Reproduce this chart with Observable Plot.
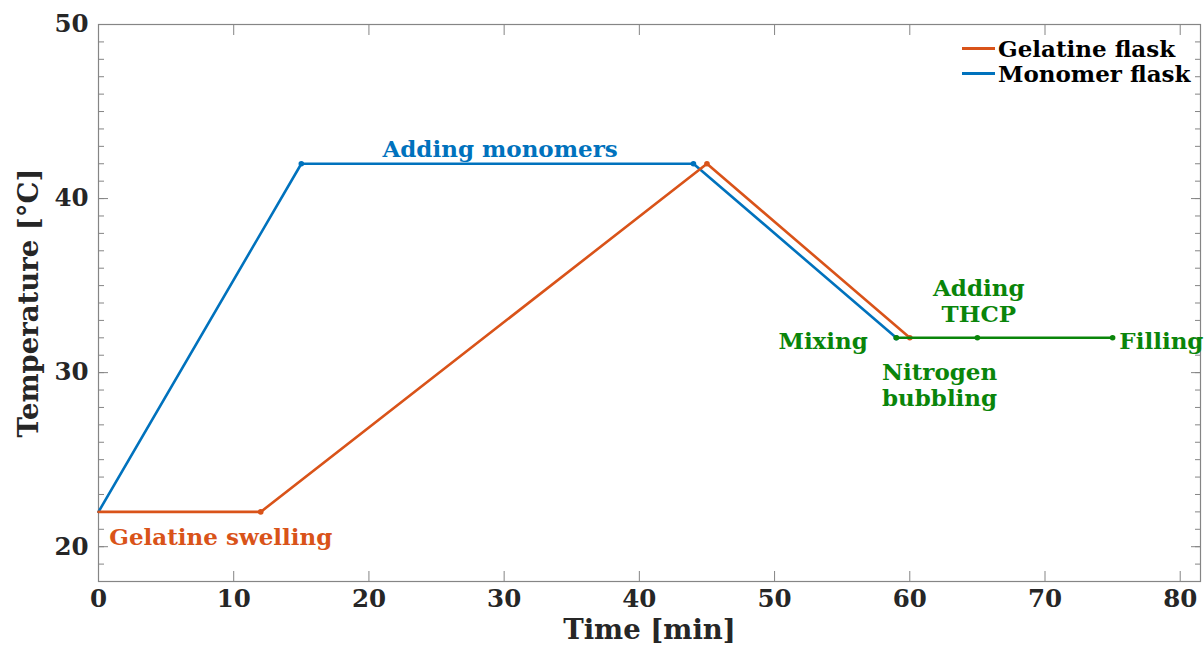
<!DOCTYPE html>
<html>
<head>
<meta charset="utf-8">
<script src="https://cdn.jsdelivr.net/npm/d3@7"></script>
<script src="https://cdn.jsdelivr.net/npm/@observablehq/plot@0.6"></script>
<style>
  html, body { margin: 0; padding: 0; background: #fff; }
  #wrap { position: relative; width: 1204px; height: 650px; font-family: "DejaVu Serif", serif; font-weight: bold; }
  #legend { position: absolute; left: 962px; top: 36px; font-size: 23px; color: #000; line-height: 25px; }
  #legend .row { display: flex; align-items: center; height: 25px; white-space: nowrap; }
  #legend .sw { width: 33px; height: 2.5px; margin-right: 3px; }
</style>
</head>
<body>
<div id="wrap"></div>
<script>
// ---- data ----
const gelatineTime = [0, 12, 45, 60];
const gelatineTemp = [22, 22, 42, 32];
const monomerTime = [0, 15, 44, 59];
const monomerTemp = [22, 42, 42, 32];
const stageTime = [59, 65, 75];
const stageTemp = [32, 32, 32];

const xTicks = [0, 10, 20, 30, 40, 50, 60, 70, 80];
const yTicks = [20, 30, 40, 50];
const yMinorTicks = d3.range(18, 51, 1);

const seriesNames = ["Gelatine flask", "Monomer flask"];
const seriesColors = ["#D95319", "#0072BD"];
const stageColor = "#0A850A";

const noteText = ["Gelatine swelling", "Adding monomers", "Adding\nTHCP", "Mixing", "Nitrogen\nbubbling", "Filling"];
const noteX = [0.8, 29.7, 65.1, 56.9, 62.2, 75.5];
const noteY = [20.55, 42.87, 34.14, 31.85, 29.31, 31.85];
const noteAnchor = ["start", "middle", "middle", "end", "middle", "start"];
const noteColor = ["#D95319", "#0072BD", stageColor, stageColor, stageColor, stageColor];

const xLabel = "Time [min]";
const yLabel = "Temperature [°C]";

// ---- build tables ----
const gel = gelatineTime.map((t, i) => ({t, v: gelatineTemp[i]}));
const mon = monomerTime.map((t, i) => ({t, v: monomerTemp[i]}));
const stage = stageTime.map((t, i) => ({t, v: stageTemp[i]}));
const notes = noteText.map((s, i) => ({s, x: noteX[i], y: noteY[i], a: noteAnchor[i], c: noteColor[i]}));

const axisGray = "#858585";
const textDark = "#262626";
const blank = () => "";

const noteMarks = ["start", "middle", "end"].map(a =>
  Plot.text(notes.filter(d => d.a === a), {x: "x", y: "y", text: "s", textAnchor: a, fill: "c", fontSize: 23, lineHeight: 1.12})
);

const chart = Plot.plot({
  width: 1204,
  height: 650,
  marginLeft: 98,
  marginRight: 4,
  marginTop: 24,
  marginBottom: 69,
  style: {fontFamily: "DejaVu Serif", fontWeight: "bold", background: "#fff", overflow: "visible"},
  x: {domain: [0, 81.5], label: null},
  y: {domain: [18, 50], label: null},
  marks: [
    Plot.frame({stroke: axisGray, strokeWidth: 1.2}),
    // x ticks bottom & top (inward)
    Plot.axisX(xTicks, {anchor: "bottom", tickSize: -10, tickFormat: blank, stroke: axisGray, label: null}),
    Plot.axisX(xTicks, {anchor: "top", tickSize: -10, tickFormat: blank, stroke: axisGray, label: null}),
    Plot.axisX(xTicks, {anchor: "bottom", tickSize: 0, tickPadding: 8, fontSize: 24.5, fill: textDark, label: null}),
    // y ticks left & right
    Plot.axisY(yMinorTicks, {anchor: "left", tickSize: -6, tickFormat: blank, stroke: axisGray, label: null}),
    Plot.axisY(yMinorTicks, {anchor: "right", tickSize: -6, tickFormat: blank, stroke: axisGray, label: null}),
    Plot.axisY(yTicks, {anchor: "left", tickSize: -10, tickFormat: blank, stroke: axisGray, label: null}),
    Plot.axisY(yTicks, {anchor: "right", tickSize: -10, tickFormat: blank, stroke: axisGray, label: null}),
    Plot.axisY(yTicks, {anchor: "left", tickSize: 0, tickPadding: 10, fontSize: 24.5, fill: textDark, label: null}),
    // axis titles
    Plot.text([xLabel], {text: d => d, frameAnchor: "bottom", textAnchor: "middle", lineAnchor: "middle", dy: 49, fontSize: 27.5, fill: textDark}),
    Plot.text([yLabel], {text: d => d, frameAnchor: "left", textAnchor: "middle", lineAnchor: "middle", rotate: -90, dx: -69, fontSize: 27.5, fill: textDark}),
    // series
    Plot.line(mon, {x: "t", y: "v", stroke: seriesColors[1], strokeWidth: 2.6}),
    Plot.dot(mon.slice(1), {x: "t", y: "v", fill: seriesColors[1], r: 2.8}),
    Plot.line(gel, {x: "t", y: "v", stroke: seriesColors[0], strokeWidth: 2.6}),
    Plot.dot(gel.slice(1), {x: "t", y: "v", fill: seriesColors[0], r: 2.8}),
    Plot.line(stage, {x: "t", y: "v", stroke: stageColor, strokeWidth: 2.6}),
    Plot.dot(stage, {x: "t", y: "v", fill: stageColor, r: 2.8}),
    // annotations
    ...noteMarks
  ]
});

const wrap = document.getElementById("wrap");
wrap.appendChild(chart);

const legend = document.createElement("div");
legend.id = "legend";
seriesNames.forEach((name, i) => {
  const row = document.createElement("div");
  row.className = "row";
  const sw = document.createElement("div");
  sw.className = "sw";
  sw.style.background = seriesColors[i];
  const lab = document.createElement("span");
  lab.textContent = name;
  row.appendChild(sw);
  row.appendChild(lab);
  legend.appendChild(row);
});
wrap.appendChild(legend);
</script>
</body>
</html>
